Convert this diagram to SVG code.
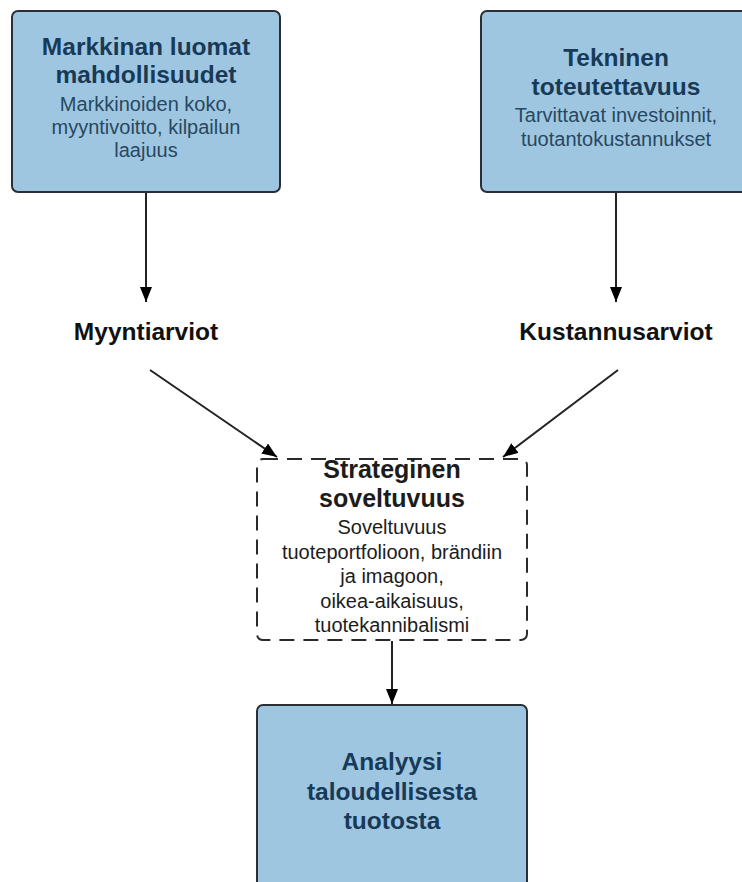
<svg xmlns="http://www.w3.org/2000/svg" width="742" height="882" viewBox="0 0 742 882">
<style>
.box{fill:#9fc6e1;stroke:#2a2f35;stroke-width:2}
.dash{fill:#fff;stroke:#2a2a2a;stroke-width:2;stroke-dasharray:15 9}
.t{font-family:"Liberation Sans",Arial,sans-serif;font-weight:bold;font-size:24.5px;text-anchor:middle;fill:#173a57}
.s{font-family:"Liberation Sans",Arial,sans-serif;font-size:20px;text-anchor:middle;fill:#274860}
.lt{font-family:"Liberation Sans",Arial,sans-serif;font-weight:bold;font-size:24.5px;text-anchor:middle;fill:#111}
.dt{font-family:"Liberation Sans",Arial,sans-serif;font-weight:bold;font-size:25px;text-anchor:middle;fill:#1c1c1c}
.ds{font-family:"Liberation Sans",Arial,sans-serif;font-size:20px;text-anchor:middle;fill:#1c1c1c}
.c{stroke:#222;stroke-width:2;fill:none;marker-end:url(#ah)}
</style>
<defs>
<marker id="ah" markerWidth="15" markerHeight="12" refX="15" refY="6" viewBox="0 0 15 12" orient="auto" markerUnits="userSpaceOnUse">
<path d="M0,0 L15,6 L0,12 Z" fill="#000"/>
</marker>
</defs>
<rect width="742" height="882" fill="#fff"/>
<g id="connectors">
<line class="c" x1="146" y1="192" x2="146" y2="302"/>
<line class="c" x1="616" y1="192" x2="616" y2="302"/>
<line class="c" x1="150" y1="370" x2="277" y2="457"/>
<line class="c" x1="618" y1="370" x2="503" y2="457"/>
<line class="c" x1="392" y1="641" x2="392" y2="704"/>
</g>
<g id="market">
<rect class="box" x="12" y="11" width="268" height="181" rx="6"/>
<text class="t" x="146" y="55">Markkinan luomat</text>
<text class="t" x="146" y="83">mahdollisuudet</text>
<text class="s" x="146" y="111">Markkinoiden koko,</text>
<text class="s" x="146" y="134">myyntivoitto, kilpailun</text>
<text class="s" x="146" y="157">laajuus</text>
</g>
<g id="tech">
<rect class="box" x="481" y="11" width="268" height="181" rx="6"/>
<text class="t" x="616" y="66">Tekninen</text>
<text class="t" x="616" y="95">toteutettavuus</text>
<text class="s" x="616" y="122">Tarvittavat investoinnit,</text>
<text class="s" x="616" y="146">tuotantokustannukset</text>
</g>
<g id="sales">
<text class="lt" x="146" y="340">Myyntiarviot</text>
</g>
<g id="costs">
<text class="lt" x="616" y="340">Kustannusarviot</text>
</g>
<g id="strategic">
<rect class="dash" x="257" y="459" width="270" height="181" rx="6"/>
<text class="dt" x="392" y="478">Strateginen</text>
<text class="dt" x="392" y="507">soveltuvuus</text>
<text class="ds" x="392" y="534">Soveltuvuus</text>
<text class="ds" x="392" y="559">tuoteportfolioon, brändiin</text>
<text class="ds" x="392" y="583">ja imagoon,</text>
<text class="ds" x="392" y="608">oikea-aikaisuus,</text>
<text class="ds" x="392" y="632">tuotekannibalismi</text>
</g>
<g id="analysis">
<rect class="box" x="257" y="705" width="270" height="190" rx="6"/>
<text class="t" x="392" y="770">Analyysi</text>
<text class="t" x="392" y="800">taloudellisesta</text>
<text class="t" x="392" y="829">tuotosta</text>
</g>
</svg>
